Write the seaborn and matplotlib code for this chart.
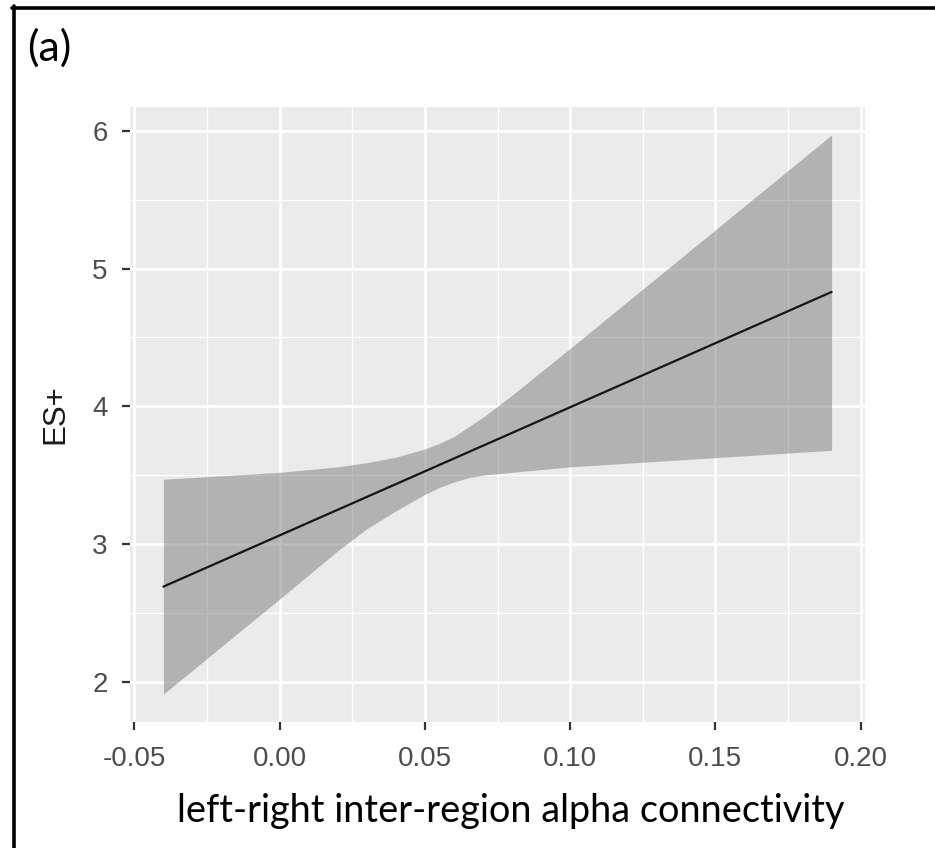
import matplotlib
matplotlib.use("Agg")
import matplotlib.pyplot as plt
from matplotlib.lines import Line2D
import pandas as pd
import seaborn as sns

# Fitted regression line (endpoints of the observed predictor range)
line_x = [-0.04, 0.19]
line_y = [2.69, 4.83]

# 95% confidence band around the fit
band_x = [-0.04, 0.000, 0.020, 0.030, 0.040, 0.045, 0.050, 0.055, 0.060,
          0.065, 0.070, 0.080, 0.100, 0.190]
band_upper = [3.47, 3.52, 3.56, 3.59, 3.63, 3.66, 3.69, 3.73, 3.78,
              3.85, 3.92, 4.08, 4.42, 5.97]
band_lower = [1.91, 2.60, 2.95, 3.11, 3.24, 3.30, 3.36, 3.41, 3.45,
              3.48, 3.50, 3.52, 3.56, 3.68]

x_ticks = [-0.05, 0.00, 0.05, 0.10, 0.15, 0.20]
x_ticklabels = ["-0.05", "0.00", "0.05", "0.10", "0.15", "0.20"]
y_ticks = [2, 3, 4, 5, 6]
x_minor = [-0.025, 0.025, 0.075, 0.125, 0.175]
y_minor = [2.5, 3.5, 4.5, 5.5]

sns.set_theme(style="darkgrid", rc={
    "axes.facecolor": "#EBEBEB",
    "grid.color": "white",
    "axes.edgecolor": "#EBEBEB",
})

W, H = 935, 848
fig = plt.figure(figsize=(W / 100, H / 100), dpi=100)
fig.patch.set_facecolor("white")

ax = fig.add_axes([130 / W, 1 - 722 / H, (865 - 130) / W, (722 - 107) / H])

fit = pd.DataFrame({"x": line_x, "y": line_y})

# confidence ribbon
ax.fill_between(band_x, band_lower, band_upper, color="#7a7a7a", alpha=0.5,
                linewidth=0, zorder=2)
# fitted line
sns.lineplot(data=fit, x="x", y="y", ax=ax, color="#141414", linewidth=1.6,
             zorder=3)

ax.set_xlim(-0.0515, 0.2015)
ax.set_ylim(1.707, 6.173)

ax.set_xticks(x_ticks)
ax.set_xticklabels(x_ticklabels)
ax.set_yticks(y_ticks)
ax.set_yticklabels([str(v) for v in y_ticks])
ax.set_xticks(x_minor, minor=True)
ax.set_yticks(y_minor, minor=True)

ax.grid(which="major", color="white", linewidth=2.0)
ax.grid(which="minor", color="white", linewidth=1.0)
ax.set_axisbelow(True)
for s in ax.spines.values():
    s.set_visible(False)

ax.tick_params(axis="both", which="major", length=6, width=1.6, color="#333333",
               labelcolor="#4D4D4D", bottom=True, left=True)
ax.tick_params(axis="x", pad=11)
ax.tick_params(axis="y", pad=10)
ax.tick_params(which="minor", length=0)
for lab in ax.get_xticklabels() + ax.get_yticklabels():
    lab.set_fontfamily("Liberation Sans")
    lab.set_fontsize(20)

ax.set_xlabel("")
ax.set_ylabel("ES+", family="Liberation Sans", fontsize=22.5, color="#1a1a1a",
              labelpad=16)

fig.text(511 / W, 1 - 822 / H, "left-right inter-region alpha connectivity",
         ha="center", va="baseline", family="Lato", fontsize=27.3, color="black")
fig.text(27 / W, 1 - 61 / H, "(a)", ha="left", va="baseline", family="Lato",
         fontsize=31, color="black")

# panel frame (top and left rules)
fig.add_artist(Line2D([12 / W, 1.0], [1 - 7.5 / H, 1 - 7.5 / H],
                      transform=fig.transFigure, color="black", linewidth=2.6))
fig.add_artist(Line2D([13.5 / W, 13.5 / W], [0.0, 1 - 6 / H],
                      transform=fig.transFigure, color="black", linewidth=2.6))

fig.savefig("out.png", dpi=100, facecolor="white")
